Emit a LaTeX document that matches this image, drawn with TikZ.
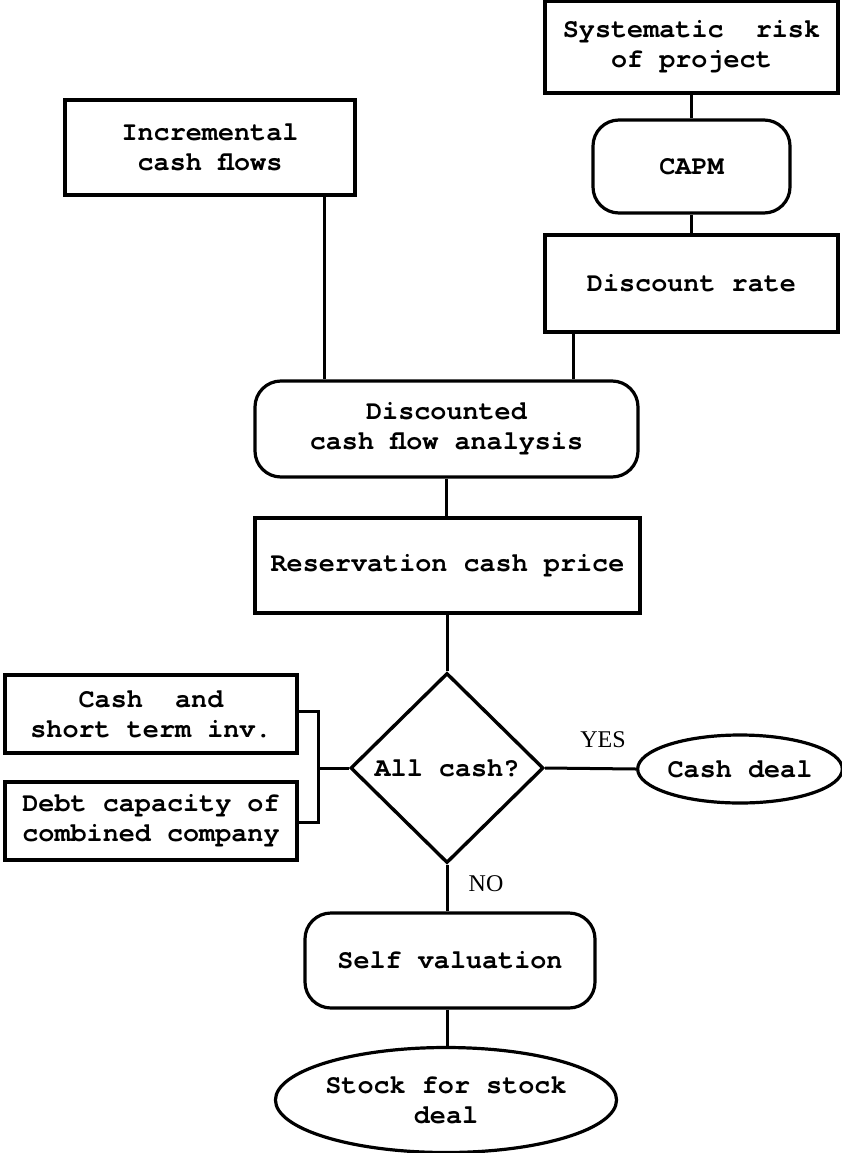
\documentclass[tikz,border=0pt]{standalone}
\usepackage{fontspec}
\setmonofont{TeX Gyre Cursor}
\newfontfamily\labfont{Liberation Serif}
\usetikzlibrary{shapes.geometric}
\begin{document}
\begin{tikzpicture}[x=1pt,y=-1pt,
  every node/.style={font=\fontsize{26.8}{30}\selectfont\ttfamily\bfseries, align=center, inner sep=0pt},
  box/.style={draw, rectangle, line width=3.2pt},
  rbox/.style={draw, rectangle, rounded corners=26pt, line width=3.2pt},
  oval/.style={draw, ellipse, line width=3.2pt},
  decision/.style={draw, diamond, line width=3.4pt},
  conn/.style={line width=3pt},
  lab/.style={font=\fontsize{24}{26}\selectfont\labfont}]
\fill[white] (0,0) rectangle (842,1153);
\useasboundingbox (0,0) rectangle (842,1153);

\node[box, minimum width=293pt, minimum height=92pt] (sys) at (691.5,47) {Systematic\ \ risk\\of project};
\node[rbox, minimum width=197pt, minimum height=93pt] (capm) at (691.5,166.5) {CAPM};
\node[box, minimum width=293pt, minimum height=97pt] (disc) at (691.5,283.5) {Discount rate};
\node[box, minimum width=290pt, minimum height=95pt] (incr) at (210,147.5) {Incremental\\cash flows};
\node[rbox, minimum width=383pt, minimum height=96pt] (dcf) at (446.5,429) {Discounted\\cash flow analysis};
\node[box, minimum width=385pt, minimum height=95pt] (res) at (447.5,565.5) {Reservation cash price};
\node[decision, minimum width=193pt, minimum height=190pt] (dia) at (447,768) {All cash?};
\node[oval, minimum width=200pt, minimum height=68pt] (cdeal) at (740,769) {Cash deal};
\node[box, minimum width=292pt, minimum height=78pt] (cst) at (151,714) {Cash\ \ and\\short term inv.};
\node[box, minimum width=292pt, minimum height=78pt] (debt) at (151,821) {Debt capacity of\\combined company};
\node[rbox, minimum width=290pt, minimum height=95pt] (selfv) at (450,960.5) {Self valuation};
\node[oval, minimum width=312pt, minimum height=105pt] (stock) at (446,1100) {Stock for stock\\deal};

\coordinate (brk) at (318,768);
\coordinate (dtap) at ([xshift=30pt]disc.south west);
\coordinate (itap) at ([xshift=-32pt]incr.south east);

\draw[conn] (sys.south) -- (capm.north);
\draw[conn] (capm.south) -- (disc.north);
\draw[conn] (dtap) -- (dtap |- dcf.north);
\draw[conn] (itap) -- (itap |- dcf.north);
\draw[conn] (dcf.south) -- (dcf.south |- res.north);
\draw[conn] (res.south -| dia.north) -- (dia.north);
\draw[conn] (dia.east) -- (cdeal.west);
\draw[conn] (dia.south) -- (dia.south |- selfv.north);
\draw[conn] (selfv.south -| dia.south) -- (dia.south |- stock.north);
\draw[conn] ([yshift=3pt]cst.east) -| (brk) |- ([yshift=-1pt]debt.east);
\draw[conn] (brk) -- (dia.west);

\node[lab] (yes) at (603,740) {YES};
\node[lab] (no) at (486,884) {NO};
\end{tikzpicture}
\end{document}
